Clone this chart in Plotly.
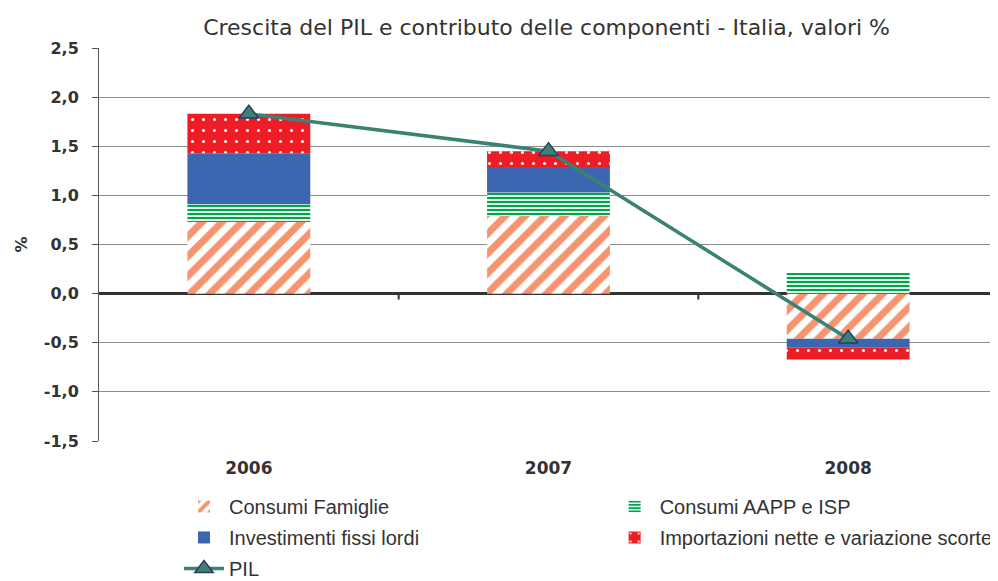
import plotly.graph_objects as go

anni = ["2006", "2007", "2008"]
consumi_famiglie = [0.73, 0.79, -0.46]
consumi_aapp = [0.18, 0.24, 0.21]
investimenti = [0.52, 0.26, -0.09]
importazioni = [0.40, 0.16, -0.12]
pil = [1.83, 1.45, -0.46]
y_ticks = [-1.5, -1.0, -0.5, 0.0, 0.5, 1.0, 1.5, 2.0, 2.5]
y_ticktext = ["-1,5", "-1,0", "-0,5", "0,0", "0,5", "1,0", "1,5", "2,0", "2,5"]

FONT = "DejaVu Sans, Liberation Sans, Arial, sans-serif"
LEGFONT = "Liberation Sans, Arial, sans-serif"
TXT = "#333333"

fig = go.Figure()
fig.add_trace(go.Bar(
    x=anni, y=consumi_famiglie, name="Consumi Famiglie", legend="legend", legendgroup="a",
    marker=dict(color="white", line=dict(width=0),
                pattern=dict(shape="/", fgcolor="#F7946F", bgcolor="white", fgopacity=1,
                             size=14, solidity=0.5)),
))
fig.add_trace(go.Bar(
    x=anni, y=consumi_aapp, name="Consumi AAPP e ISP", legend="legend2", legendgroup="b",
    marker=dict(color="white", line=dict(width=0),
                pattern=dict(shape="-", fgcolor="#00A44A", bgcolor="white", fgopacity=1,
                             size=4, solidity=0.55)),
))
fig.add_trace(go.Bar(
    x=anni, y=investimenti, name="Investimenti fissi lordi", legend="legend", legendgroup="c",
    marker=dict(color="#3D66B0", line=dict(width=0)),
))
fig.add_trace(go.Bar(
    x=anni, y=importazioni, name="Importazioni nette e variazione scorte", legend="legend2", legendgroup="d",
    marker=dict(color="#EE1D25", line=dict(width=0),
                pattern=dict(shape=".", fgcolor="white", bgcolor="#EE1D25", fgopacity=1,
                             size=11, solidity=0.06)),
))
fig.add_trace(go.Scatter(
    x=anni, y=pil, name="PIL", mode="lines+markers", legend="legend", legendgroup="e",
    line=dict(color="#3A8272", width=3.5),
    marker=dict(symbol="triangle-up", size=17, color="#3A8272", line=dict(color="#2E3A6B", width=1.5)),
))

# small tick marks between categories on the zero line
for xb in [0.5, 1.5]:
    fig.add_shape(type="line", xref="x", yref="y", x0=xb, x1=xb, y0=0, y1=-0.06,
                  line=dict(color="#333333", width=2))

legend_common = dict(
    font=dict(family=LEGFONT, size=20, color=TXT),
    bgcolor="rgba(0,0,0,0)", traceorder="grouped", tracegroupgap=2,
    orientation="v", yanchor="top", xanchor="left", itemwidth=40,
)

# the page body adds an 8px offset, so the figure is 8px smaller and shifted accordingly
fig.update_layout(
    width=990, height=573,
    margin=dict(l=91, r=0, t=40, b=140, autoexpand=False),
    paper_bgcolor="white", plot_bgcolor="white",
    barmode="relative", bargap=0.59,
    title=dict(text="Crescita del PIL e contributo delle componenti - Italia, valori %",
               x=0.544, xanchor="center", y=0.967, yanchor="middle",
               font=dict(family=FONT, size=22, color=TXT)),
    legend=dict(x=0.089, y=-0.117, **legend_common),
    legend2=dict(x=0.568, y=-0.117, **legend_common),
    xaxis=dict(type="category", showgrid=False, showline=False, ticks="",
               automargin=False, ticklabelstandoff=15,
               tickfont=dict(family=FONT, size=17, color=TXT, weight="bold")),
    yaxis=dict(range=[-1.5, 2.5], tickvals=y_ticks, ticktext=y_ticktext,
               automargin=False,
               showgrid=True, gridcolor="#8C8C8C", gridwidth=1,
               zeroline=True, zerolinecolor="#333333", zerolinewidth=3,
               showline=True, linecolor="#555555", linewidth=1,
               ticks="outside", ticklen=6, tickcolor="#555555", ticklabelstandoff=10,
               tickfont=dict(family=FONT, size=16, color=TXT, weight="bold"),
               title=dict(text="%", standoff=12, font=dict(family=FONT, size=16, color=TXT, weight="bold"))),
    showlegend=True,
)

fig.write_html("out.html")
